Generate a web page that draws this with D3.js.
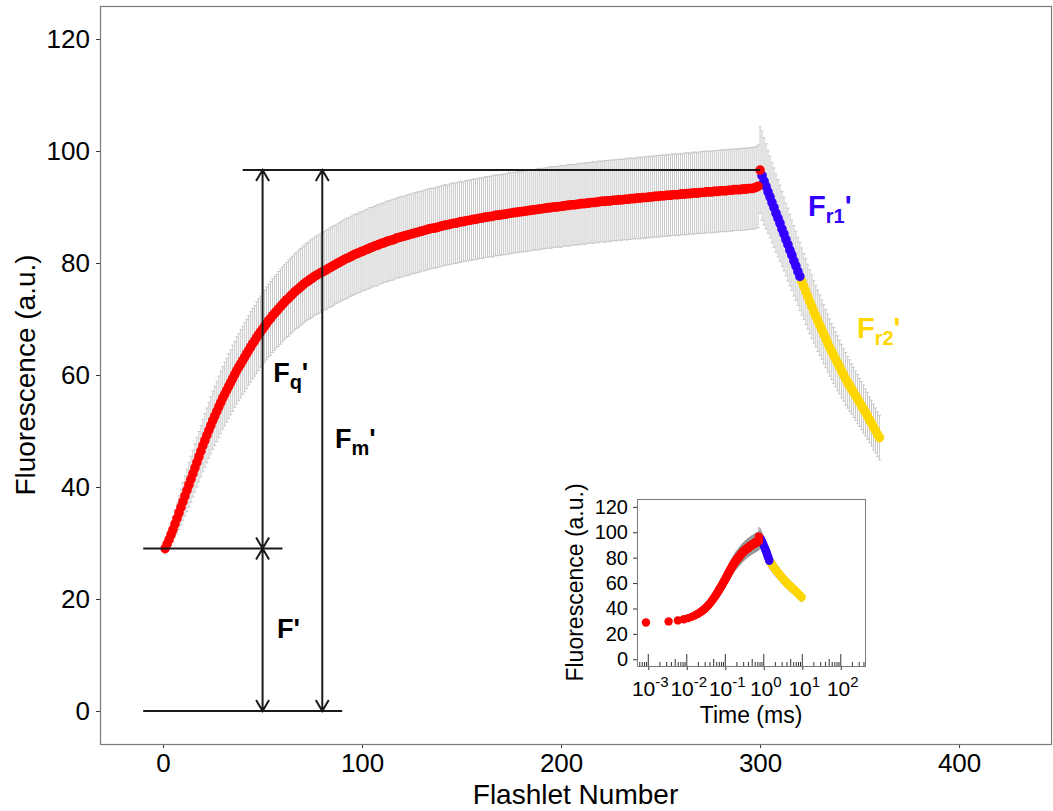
<!DOCTYPE html>
<html>
<head>
<meta charset="utf-8">
<script src="https://cdn.jsdelivr.net/npm/d3@7"></script>
<style>
  body { margin: 0; background: #fff; }
  svg { display: block; font-family: 'Liberation Sans', Arial, sans-serif; }
</style>
</head>
<body>
<div id="chart"></div>
<script>
// ---- data ----
// induction phase, flashlets 1..300
const inductionValues = [
  29.0, 29.8, 30.6, 31.5, 32.4, 33.4, 34.4, 35.4, 36.4, 37.4, 38.4, 39.4, 40.4, 41.4, 42.4, 43.4, 44.4, 45.4, 46.4, 47.4,
  48.3, 49.2, 50.1, 51.0, 51.9, 52.7, 53.5, 54.3, 55.1, 55.9, 56.6, 57.3, 58.0, 58.7, 59.4, 60.1, 60.8, 61.4, 62.0, 62.6,
  63.2, 63.8, 64.4, 65.0, 65.6, 66.1, 66.7, 67.2, 67.7, 68.2, 68.7, 69.2, 69.7, 70.1, 70.6, 71.0, 71.4, 71.8, 72.2, 72.6,
  73.0, 73.4, 73.7, 74.1, 74.4, 74.8, 75.1, 75.4, 75.7, 76.0, 76.3, 76.6, 76.8, 77.1, 77.3, 77.6, 77.8, 78.0, 78.2, 78.4,
  78.6, 78.8, 79.0, 79.2, 79.4, 79.6, 79.8, 80.0, 80.2, 80.4, 80.6, 80.8, 80.9, 81.1, 81.3, 81.5, 81.6, 81.8, 81.9, 82.1,
  82.2, 82.4, 82.5, 82.7, 82.8, 83.0, 83.1, 83.2, 83.4, 83.5, 83.6, 83.8, 83.9, 84.0, 84.1, 84.2, 84.4, 84.5, 84.6, 84.7,
  84.8, 84.9, 85.0, 85.1, 85.2, 85.3, 85.4, 85.5, 85.6, 85.7, 85.8, 85.9, 86.0, 86.1, 86.2, 86.2, 86.3, 86.4, 86.5, 86.6,
  86.7, 86.8, 86.8, 86.9, 87.0, 87.1, 87.1, 87.2, 87.3, 87.4, 87.4, 87.5, 87.6, 87.6, 87.7, 87.8, 87.8, 87.9, 88.0, 88.0,
  88.1, 88.2, 88.2, 88.3, 88.3, 88.4, 88.5, 88.5, 88.6, 88.6, 88.7, 88.7, 88.8, 88.9, 88.9, 89.0, 89.0, 89.1, 89.1, 89.2,
  89.2, 89.3, 89.3, 89.4, 89.4, 89.5, 89.5, 89.6, 89.6, 89.7, 89.7, 89.8, 89.8, 89.9, 89.9, 90.0, 90.0, 90.0, 90.1, 90.1,
  90.2, 90.2, 90.3, 90.3, 90.4, 90.4, 90.4, 90.5, 90.5, 90.6, 90.6, 90.6, 90.7, 90.7, 90.8, 90.8, 90.8, 90.9, 90.9, 91.0,
  91.0, 91.0, 91.1, 91.1, 91.1, 91.2, 91.2, 91.2, 91.3, 91.3, 91.3, 91.4, 91.4, 91.4, 91.5, 91.5, 91.5, 91.6, 91.6, 91.6,
  91.7, 91.7, 91.7, 91.8, 91.8, 91.8, 91.9, 91.9, 91.9, 92.0, 92.0, 92.0, 92.1, 92.1, 92.1, 92.2, 92.2, 92.2, 92.2, 92.3,
  92.3, 92.3, 92.4, 92.4, 92.4, 92.5, 92.5, 92.5, 92.5, 92.6, 92.6, 92.6, 92.7, 92.7, 92.7, 92.7, 92.8, 92.8, 92.8, 92.9,
  92.9, 92.9, 92.9, 93.0, 93.0, 93.0, 93.1, 93.1, 93.1, 93.1, 93.2, 93.2, 93.2, 93.3, 93.3, 93.3, 93.4, 93.5, 93.7, 96.6
]
const inductionSd = [
  1.0, 1.3, 1.6, 1.9, 2.2, 2.5, 2.8, 3.0, 3.2, 3.4, 3.6, 3.8, 4.0, 4.1, 4.2, 4.3, 4.4, 4.5, 4.6, 4.7,
  4.8, 4.9, 5.0, 5.1, 5.2, 5.3, 5.4, 5.5, 5.6, 5.6, 5.7, 5.7, 5.8, 5.8, 5.9, 5.9, 6.0, 6.0, 6.1, 6.1,
  6.2, 6.2, 6.2, 6.3, 6.3, 6.3, 6.4, 6.4, 6.4, 6.5, 6.5, 6.5, 6.5, 6.6, 6.6, 6.6, 6.6, 6.7, 6.7, 6.7,
  6.7, 6.7, 6.8, 6.8, 6.8, 6.8, 6.8, 6.9, 6.9, 6.9, 6.9, 6.9, 6.9, 7.0, 7.0, 7.0, 7.0, 7.0, 7.0, 7.0,
  7.0, 7.1, 7.0, 7.1, 7.1, 7.1, 7.0, 7.1, 7.1, 7.1, 7.1, 7.2, 7.1, 7.1, 7.1, 7.2, 7.1, 7.1, 7.2, 7.1,
  7.1, 7.2, 7.1, 7.2, 7.1, 7.1, 7.2, 7.2, 7.1, 7.2, 7.1, 7.2, 7.2, 7.1, 7.2, 7.2, 7.1, 7.2, 7.2, 7.2,
  7.1, 7.2, 7.2, 7.2, 7.1, 7.2, 7.2, 7.2, 7.2, 7.1, 7.2, 7.2, 7.2, 7.2, 7.2, 7.1, 7.2, 7.2, 7.2, 7.2,
  7.2, 7.2, 7.1, 7.2, 7.2, 7.2, 7.2, 7.2, 7.2, 7.2, 7.1, 7.2, 7.2, 7.2, 7.2, 7.2, 7.2, 7.2, 7.2, 7.2,
  7.2, 7.2, 7.2, 7.2, 7.2, 7.3, 7.2, 7.2, 7.2, 7.2, 7.2, 7.2, 7.2, 7.3, 7.2, 7.2, 7.2, 7.2, 7.2, 7.2,
  7.2, 7.2, 7.3, 7.2, 7.2, 7.2, 7.2, 7.2, 7.3, 7.2, 7.2, 7.2, 7.2, 7.2, 7.3, 7.2, 7.2, 7.2, 7.2, 7.3,
  7.2, 7.2, 7.2, 7.3, 7.2, 7.2, 7.2, 7.2, 7.3, 7.2, 7.2, 7.3, 7.2, 7.2, 7.2, 7.3, 7.2, 7.2, 7.3, 7.2,
  7.2, 7.3, 7.2, 7.2, 7.3, 7.2, 7.2, 7.3, 7.2, 7.3, 7.2, 7.2, 7.3, 7.2, 7.3, 7.2, 7.2, 7.3, 7.2, 7.3,
  7.2, 7.3, 7.2, 7.3, 7.2, 7.3, 7.2, 7.3, 7.3, 7.2, 7.3, 7.2, 7.3, 7.3, 7.2, 7.3, 7.3, 7.2, 7.3, 7.3,
  7.2, 7.3, 7.3, 7.3, 7.2, 7.3, 7.3, 7.3, 7.2, 7.3, 7.3, 7.3, 7.3, 7.2, 7.3, 7.3, 7.3, 7.3, 7.3, 7.3,
  7.3, 7.3, 7.3, 7.3, 7.3, 7.3, 7.3, 7.3, 7.3, 7.3, 7.3, 7.3, 7.3, 7.3, 7.3, 7.3, 7.3, 7.3, 7.4, 7.7
]
// fast relaxation (Fr1'), flashlets 301..320
const fastRelaxValues = [95.6, 94.6, 93.7, 92.7, 91.8, 90.8, 89.9, 88.9, 88.0, 87.1, 86.1, 85.2, 84.2, 83.3, 82.3, 81.4, 80.4, 79.5, 78.5, 77.6]
const fastRelaxSd = [8.0, 7.8, 7.6, 7.4, 7.3, 7.2, 7.1, 7.0, 6.9, 6.8, 6.7, 6.6, 6.5, 6.5, 6.4, 6.3, 6.3, 6.2, 6.1, 6.1]
const fastRelaxTimesMs = [0.800, 0.831, 0.862, 0.893, 0.924, 0.955, 0.986, 1.017, 1.048, 1.079, 1.110, 1.141, 1.172, 1.203, 1.234, 1.265, 1.296, 1.327, 1.358, 1.389]
// slow relaxation (Fr2'), flashlets 321..360
const slowRelaxValues = [
  76.7, 75.8, 74.9, 74.0, 73.1, 72.2, 71.3, 70.5, 69.7, 68.9, 68.1, 67.3, 66.5, 65.7, 64.9, 64.2, 63.5, 62.8, 62.1, 61.4,
  60.7, 60.0, 59.3, 58.7, 58.1, 57.5, 56.9, 56.3, 55.7, 55.1, 54.5, 53.9, 53.3, 52.7, 52.0, 51.4, 50.7, 50.1, 49.4, 48.8
]
const slowRelaxSd = [
  6.0, 5.9, 5.9, 5.8, 5.7, 5.7, 5.6, 5.5, 5.5, 5.4, 5.3, 5.3, 5.2, 5.2, 5.1, 5.0, 5.0, 4.9, 4.9, 4.8,
  4.8, 4.7, 4.7, 4.6, 4.6, 4.5, 4.5, 4.4, 4.4, 4.3, 4.3, 4.3, 4.2, 4.2, 4.1, 4.1, 4.1, 4.0, 4.0, 4.0
]
const slowRelaxTimesMs = [
  1.450, 1.522, 1.598, 1.677, 1.761, 1.848, 1.940, 2.037, 2.138, 2.244, 2.356, 2.473, 2.596, 2.725, 2.860, 3.002, 3.152, 3.308, 3.473, 3.645,
  3.827, 4.017, 4.217, 4.426, 4.646, 4.877, 5.120, 5.374, 5.641, 5.922, 6.216, 6.525, 6.850, 7.190, 7.548, 7.923, 8.317, 8.730, 9.164, 9.620
]
// induction flashlet timing (inset x axis)
const firstFlashletMs = 0.00087
const flashletIntervalMs = 0.0025

// axes
const flashletDomain = [-31.7, 446.2]
const fluorescenceDomain = [-5.9, 125.9]
const insetFluorescenceDomain = [-5.3, 126.2]
const insetTimeDomain = [Math.pow(10, -3.293), Math.pow(10, 2.629)]
const flashletTicks = [0, 100, 200, 300, 400]
const fluorescenceTicks = [0, 20, 40, 60, 80, 100, 120]
const timeDecades = [-3, -2, -1, 0, 1, 2]

// annotation anchors, data units
const guideExtents = [[-10, 90], [-10, 60], [40, 300]]
const arrowFlashlets = { fq: 50, fPrime: 50, fm: 80 }
const labels = [
  { f: 55.3, v: 58.8, sub: 'q', color: '#000', size: 27 },
  { f: 86.4, v: 47.0, sub: 'm', color: '#000', size: 27 },
  { f: 57.3, v: 13.0, sub: '', color: '#000', size: 27 },
  { f: 324.1, v: 88.4, sub: 'r1', color: '#3300FF', size: 29 },
  { f: 348.7, v: 66.6, sub: 'r2', color: '#FFD700', size: 29 }
]

const FONT = "'Liberation Sans', Arial, sans-serif"

// ---- build records ----
const phases = [
  { key: 'induction', values: inductionValues, sd: inductionSd, color: '#FF0000',
    times: inductionValues.map((_, i) => firstFlashletMs + i * flashletIntervalMs) },
  { key: 'fast', values: fastRelaxValues, sd: fastRelaxSd, color: '#3300FF', times: fastRelaxTimesMs },
  { key: 'slow', values: slowRelaxValues, sd: slowRelaxSd, color: '#FFD700', times: slowRelaxTimesMs }
]
let flashlet = 1
const records = []
phases.forEach(p => {
  p.values.forEach((v, i) => {
    records.push({ flashlet: flashlet++, value: v, sd: p.sd[i], time: p.times[i], phase: p.key, color: p.color })
  })
})
const drawOrder = ['slow', 'fast', 'induction']

const fPrime = inductionValues[0]
const fmPrime = inductionValues[inductionValues.length - 1]

// ---- svg ----
const svg = d3.select('#chart').append('svg')
  .attr('width', 1053).attr('height', 811)
svg.append('rect').attr('width', 1053).attr('height', 811).attr('fill', '#fff')

function drawSeries(g, xs, ys, xKey, r, errColor, cap) {
  g.append('g').selectAll('path').data(records).join('path')
    .attr('d', d => {
      const cx = xs(d[xKey])
      const t = ys(d.value + d.sd)
      const b = ys(d.value - d.sd)
      return `M${cx - cap},${t}H${cx + cap}M${cx},${t}V${b}M${cx - cap},${b}H${cx + cap}`
    })
    .attr('fill', 'none')
    .attr('stroke', errColor)
    .attr('stroke-width', 1)
  drawOrder.forEach(key => {
    g.append('g').selectAll('circle').data(records.filter(d => d.phase === key)).join('circle')
      .attr('cx', d => xs(d[xKey]))
      .attr('cy', d => ys(d.value))
      .attr('r', r)
      .attr('fill', d => d.color)
  })
}

function styleAxis(g, size) {
  g.attr('font-family', FONT).attr('font-size', size)
  g.select('.domain').remove()
  g.selectAll('line').attr('stroke', '#333')
  g.selectAll('text').attr('fill', '#000')
}

// ---- main panel ----
const box = { left: 100, right: 1051, top: 6, bottom: 744 }
const x = d3.scaleLinear().domain(flashletDomain).range([box.left, box.right])
const y = d3.scaleLinear().domain(fluorescenceDomain).range([box.bottom, box.top])

const main = svg.append('g')
drawSeries(main, x, y, 'flashlet', 4.8, '#c8c8c8', 1.5)

// guide lines and arrows
const ann = svg.append('g').attr('stroke', '#1a1a1a').attr('stroke-width', 2).attr('fill', 'none')
const guideLevels = [0, fPrime, fmPrime]
guideLevels.forEach((lvl, i) => {
  ann.append('line')
    .attr('x1', x(guideExtents[i][0])).attr('x2', x(guideExtents[i][1]))
    .attr('y1', y(lvl)).attr('y2', y(lvl))
})
const arrowSpecs = [
  { f: arrowFlashlets.fPrime, lo: 0, hi: fPrime },
  { f: arrowFlashlets.fq, lo: fPrime, hi: fmPrime },
  { f: arrowFlashlets.fm, lo: 0, hi: fmPrime }
]
arrowSpecs.forEach(a => {
  const ax = x(a.f)
  const yTop = y(a.hi)
  const yBot = y(a.lo)
  ann.append('path')
    .attr('d', `M${ax},${yTop}V${yBot}` +
      `M${ax - 6.5},${yTop + 11}L${ax},${yTop}L${ax + 6.5},${yTop + 11}` +
      `M${ax - 6.5},${yBot - 11}L${ax},${yBot}L${ax + 6.5},${yBot - 11}`)
})

// labels F', Fq', Fm', Fr1', Fr2'
labels.forEach(l => {
  const t = svg.append('text')
    .attr('x', x(l.f)).attr('y', y(l.v))
    .attr('font-family', FONT).attr('font-weight', 'bold')
    .attr('font-size', l.size).attr('fill', l.color)
  t.append('tspan').text('F')
  if (l.sub) {
    t.append('tspan').attr('font-size', 20).attr('dy', 7).text(l.sub)
    t.append('tspan').attr('dy', -7).text("'")
  } else {
    t.append('tspan').text("'")
  }
})

// axes
svg.append('g').attr('transform', `translate(0,${box.bottom})`)
  .call(d3.axisBottom(x).tickValues(flashletTicks).tickSize(4).tickPadding(6))
  .call(g => styleAxis(g, 26))
svg.append('g').attr('transform', `translate(${box.left},0)`)
  .call(d3.axisLeft(y).tickValues(fluorescenceTicks).tickSize(4).tickPadding(6))
  .call(g => styleAxis(g, 26))

svg.append('rect')
  .attr('x', box.left + 0.5).attr('y', box.top + 0.5)
  .attr('width', box.right - box.left).attr('height', box.bottom - box.top)
  .attr('fill', 'none').attr('stroke', '#7a7a7a').attr('stroke-width', 1.2)

svg.append('text')
  .attr('x', (box.left + box.right) / 2).attr('y', 804)
  .attr('text-anchor', 'middle').attr('font-family', FONT).attr('font-size', 28)
  .text('Flashlet Number')
svg.append('text')
  .attr('transform', `translate(35,${(box.top + box.bottom) / 2}) rotate(-90)`)
  .attr('text-anchor', 'middle').attr('font-family', FONT).attr('font-size', 28)
  .text('Fluorescence (a.u.)')

// ---- inset ----
const ibox = { left: 637, right: 865, top: 499, bottom: 666 }
const ix = d3.scaleLog().domain(insetTimeDomain).range([ibox.left, ibox.right])
const iy = d3.scaleLinear().domain(insetFluorescenceDomain).range([ibox.bottom, ibox.top])

svg.append('rect')
  .attr('x', ibox.left).attr('y', ibox.top)
  .attr('width', ibox.right - ibox.left).attr('height', ibox.bottom - ibox.top)
  .attr('fill', '#fff')

const inset = svg.append('g')
drawSeries(inset, ix, iy, 'time', 4.2, '#9a9a9a', 0)

// log ticks inside the bottom edge
const logTicks = []
for (let e = -4; e <= 2; e++) {
  for (let m = 1; m <= 9; m++) {
    const v = m * Math.pow(10, e)
    if (v >= insetTimeDomain[0] && v <= insetTimeDomain[1]) logTicks.push({ v, len: m === 1 ? 12 : m === 5 ? 7 : 4 })
  }
}
svg.append('g').selectAll('line').data(logTicks).join('line')
  .attr('x1', d => ix(d.v)).attr('x2', d => ix(d.v))
  .attr('y1', ibox.bottom).attr('y2', d => ibox.bottom - d.len)
  .attr('stroke', '#333').attr('stroke-width', 1)

const decadeTicks = timeDecades.map(e => Math.pow(10, e))
svg.append('g').attr('transform', `translate(0,${ibox.bottom})`)
  .call(d3.axisBottom(ix).tickValues(decadeTicks).tickSize(4).tickFormat(''))
  .call(g => styleAxis(g, 19))

svg.append('g').attr('transform', `translate(${ibox.left},0)`)
  .call(d3.axisLeft(iy).tickValues(fluorescenceTicks).tickSize(4).tickPadding(5))
  .call(g => styleAxis(g, 20))

const decadeLabels = svg.append('g').attr('font-family', FONT)
timeDecades.forEach(e => {
  const t = decadeLabels.append('text')
    .attr('x', ix(Math.pow(10, e)) + 2).attr('y', 696)
    .attr('text-anchor', 'middle').attr('font-size', 21)
  t.append('tspan').text('10')
  t.append('tspan').attr('font-size', 15).attr('dy', -9).text(String(e))
})

svg.append('rect')
  .attr('x', ibox.left + 0.5).attr('y', ibox.top + 0.5)
  .attr('width', ibox.right - ibox.left).attr('height', ibox.bottom - ibox.top)
  .attr('fill', 'none').attr('stroke', '#7a7a7a').attr('stroke-width', 1)

svg.append('text')
  .attr('x', (ibox.left + ibox.right) / 2).attr('y', 723)
  .attr('text-anchor', 'middle').attr('font-family', FONT).attr('font-size', 23)
  .text('Time (ms)')
svg.append('text')
  .attr('transform', `translate(583,${(ibox.top + ibox.bottom) / 2}) rotate(-90)`)
  .attr('text-anchor', 'middle').attr('font-family', FONT).attr('font-size', 23)
  .text('Fluorescence (a.u.)')
</script>
</body>
</html>
